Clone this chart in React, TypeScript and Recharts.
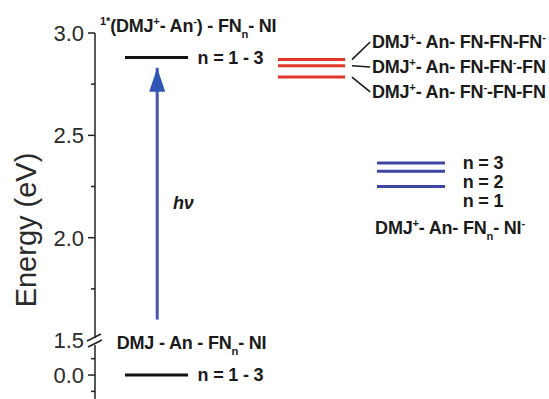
import React from 'react';
import { ComposedChart, Line, Scatter, XAxis, YAxis, Label } from 'recharts';

// energies in eV
const groundEnergy = 0.0;
const excitedEnergy = 2.88;
const photonStart = 1.6;
const photonTip = 2.83;
const chargeShiftEnergies = [2.87, 2.84, 2.785];
const radicalPairEnergies = [2.365, 2.325, 2.25];

const chargeShiftLabels = [
  'DMJ^{+}- An- FN-FN-FN^{-}',
  'DMJ^{+}- An- FN-FN^{-}-FN',
  'DMJ^{+}- An- FN^{-}-FN-FN',
];
const radicalPairLabels = ['n = 3', 'n = 2', 'n = 1'];
const chargeShiftAnchors = [2.956, 2.834, 2.712];

const upperTicks = [1.5, 1.75, 2.0, 2.25, 2.5, 2.75, 3.0];
const lowerTicks = [-0.08, 0.0, 0.08];
const majorLabels: Record<string, string> = { '1.5': '1.5', '2': '2.0', '2.5': '2.5', '3': '3.0' };

// broken axis: everything below the break is drawn shifted up to sit under 1.5
const BREAK_OFFSET = 1.329;
const toAxis = (e: number) => (e >= 1.5 ? e : BREAK_OFFSET + e);

// horizontal layout (0..100 across the plot)
const col = {
  left: [6.6, 20.5],
  arrow: 13.7,
  red: [40.3, 55.1],
  link: [56.6, 60.6],
  redText: 61.0,
  blue: [62.1, 77.1],
  nText: 81,
};

const FONT = '"Liberation Sans", Arial, Helvetica, sans-serif';

function RichText({ x, y, text, size = 18, anchor = 'start', italic = false, weight = 'bold' }: any) {
  const parts = text.split(/(\^\{[^}]*\}|_\{[^}]*\})/).filter(Boolean);
  let shift = 0;
  return (
    <text x={x} y={y + size * 0.35} fontSize={size} fontFamily={FONT} fontWeight={weight}
      fontStyle={italic ? 'italic' : 'normal'} textAnchor={anchor} fill="#1a1a1a" letterSpacing={-0.2}>
      {parts.map((p: string, i: number) => {
        if (p.startsWith('^{')) {
          const target = -size * 0.42;
          const dy = target - shift;
          shift = target;
          return <tspan key={i} dy={dy} fontSize={size * 0.62}>{p.slice(2, -1)}</tspan>;
        }
        if (p.startsWith('_{')) {
          const target = size * 0.32;
          const dy = target - shift;
          shift = target;
          return <tspan key={i} dy={dy} fontSize={size * 0.62}>{p.slice(2, -1)}</tspan>;
        }
        const dy = -shift;
        shift = 0;
        return <tspan key={i} dy={dy}>{p}</tspan>;
      })}
    </text>
  );
}

const seg = (x0: number, x1: number, e0: number, e1: number = e0) => [
  { x: x0, y: toAxis(e0) },
  { x: x1, y: toAxis(e1) },
];

const notes = [
  { x: 1.1, y: 3.0, dy: -7, text: '^{1*}(DMJ^{+}- An^{-}) - FN_{n}- NI' },
  { x: 22.6, y: toAxis(excitedEnergy), dy: 0, text: 'n = 1 - 3' },
  { x: 17.2, y: 2.17, dy: 0, text: 'hν', italic: true },
  { x: 4.8, y: 1.485, dy: 0, text: 'DMJ - An - FN_{n}- NI' },
  { x: 22.6, y: toAxis(groundEnergy), dy: 0, text: 'n = 1 - 3' },
  ...chargeShiftLabels.map((t, i) => ({ x: col.redText, y: chargeShiftAnchors[i], dy: 0, text: t })),
  ...radicalPairLabels.map((t, i) => ({ x: col.nText, y: radicalPairEnergies[0], dy: i * 19, text: t })),
  { x: 61.7, y: 2.047, dy: 0, text: 'DMJ^{+}- An- FN_{n}- NI^{-}' },
];

const AxisTick = ({ x, y, payload }: any) => {
  const v = payload.value;
  const lower = v < 1.5;
  const e = lower ? +(v - BREAK_OFFSET).toFixed(2) : v;
  const label = lower ? (e === 0 ? '0.0' : '') : majorLabels[String(e)] || '';
  const len = label ? 7 : 4;
  const tickText = label && (
    <text x={x - 11} y={y} dy="0.36em" textAnchor="end" fontSize={22} fontFamily={FONT} fill="#2a2a2a">{label}</text>
  );
  if (e === 1.5) {
    // axis break marks
    return (
      <g>
        <rect x={x - 3} y={y - 2} width={6} height={7} fill="#fff" />
        <line x1={x - 8} y1={y + 1} x2={x + 6} y2={y - 6} stroke="#222" strokeWidth={1.6} />
        <line x1={x - 7} y1={y + 7} x2={x + 7} y2={y} stroke="#222" strokeWidth={1.6} />
        {tickText}
      </g>
    );
  }
  return (
    <g>
      <line x1={x - len} y1={y} x2={x} y2={y} stroke="#222" strokeWidth={1.5} />
      {tickText}
    </g>
  );
};

const ArrowHead = (props: any) => {
  const { cx, cy, index } = props;
  if (index !== 1) return <g key={`a${index}`} />;
  return <polygon key="head" points={`${cx},${cy} ${cx - 8},${cy + 24} ${cx + 8},${cy + 24}`} fill="#2f56b4" />;
};

const NoteShape = (props: any) => {
  const { cx, cy, payload } = props;
  return <RichText x={cx} y={cy + payload.dy} text={payload.text} italic={payload.italic} />;
};

const App = () => {
  const ticks = [...lowerTicks.map(toAxis), ...upperTicks];
  return (
    <div style={{ position: 'absolute', left: 0, top: 0, background: '#fff' }}>
      <ComposedChart width={549} height={399} margin={{ top: 33, right: 0, bottom: 0, left: 0 }}>
        <XAxis type="number" dataKey="x" domain={[0, 100]} hide />
        <YAxis
          type="number"
          dataKey="y"
          domain={[1.212, 3.0]}
          ticks={ticks}
          width={95}
          tickSize={0}
          tickMargin={0}
          tickLine={false}
          interval={0}
          axisLine={{ stroke: '#222', strokeWidth: 1.5 }}
          tick={<AxisTick />}
        >
          <Label
            content={({ viewBox }: any) => {
              const cx = viewBox.x + 26;
              const cy = viewBox.y + viewBox.height / 2 + 14;
              return (
                <text x={cx} y={cy} transform={`rotate(-90 ${cx} ${cy})`} textAnchor="middle" dy="0.35em"
                  fontSize={29} fontFamily={FONT} fill="#2a2a2a">Energy (eV)</text>
              );
            }}
          />
        </YAxis>

        {/* ground and locally excited levels */}
        <Line data={seg(col.left[0], col.left[1], groundEnergy)} dataKey="y" stroke="#111" strokeWidth={3} dot={false} activeDot={false} isAnimationActive={false} />
        <Line data={seg(col.left[0], col.left[1], excitedEnergy)} dataKey="y" stroke="#111" strokeWidth={3} dot={false} activeDot={false} isAnimationActive={false} />

        {/* photoexcitation */}
        <Line
          data={[{ x: col.arrow, y: photonStart }, { x: col.arrow, y: photonTip }]}
          dataKey="y" stroke="#4456ad" strokeWidth={3} dot={<ArrowHead />} activeDot={false} isAnimationActive={false}
        />

        {/* DMJ+-An-FN3- charge-shifted states */}
        {chargeShiftEnergies.map((e, i) => (
          <Line key={`r${i}`} data={seg(col.red[0], col.red[1], e)} dataKey="y" stroke="#e4372c" strokeWidth={3} dot={false} activeDot={false} isAnimationActive={false} />
        ))}
        {chargeShiftEnergies.map((e, i) => (
          <Line key={`l${i}`} data={seg(col.link[0], col.link[1], e, chargeShiftAnchors[i])} dataKey="y" stroke="#1a1a1a" strokeWidth={1.6} dot={false} activeDot={false} isAnimationActive={false} />
        ))}

        {/* DMJ+-An-FNn-NI- radical pairs */}
        {radicalPairEnergies.map((e, i) => (
          <Line key={`b${i}`} data={seg(col.blue[0], col.blue[1], e)} dataKey="y" stroke="#3d47a3" strokeWidth={3} dot={false} activeDot={false} isAnimationActive={false} />
        ))}

        <Scatter data={notes} shape={<NoteShape />} isAnimationActive={false} />
      </ComposedChart>
    </div>
  );
};

export default App;
